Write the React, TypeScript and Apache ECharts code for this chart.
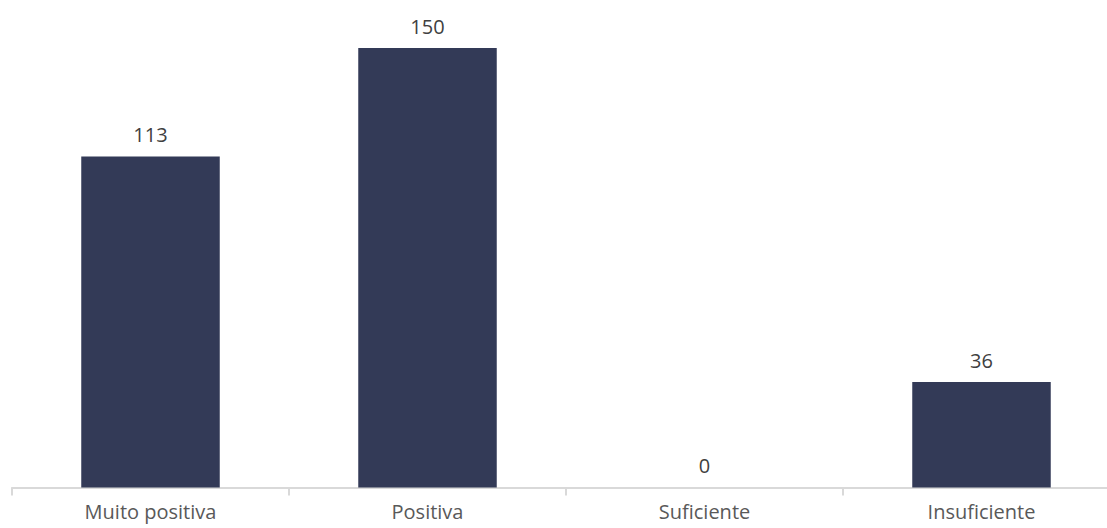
import React, { useEffect, useRef } from "react";
import * as echarts from "echarts";

const categories = ["Muito positiva", "Positiva", "Suficiente", "Insuficiente"];
const values = [113, 150, 0, 36];

export default function App() {
  const ref = useRef<HTMLDivElement>(null);
  useEffect(() => {
    document.body.style.margin = "0";
    document.body.style.overflow = "hidden";
    document.documentElement.style.overflow = "hidden";
    const chart = echarts.init(ref.current!, null, { renderer: "svg" });
    chart.setOption({
      animation: false,
      grid: { left: 12, right: 0, top: 48, bottom: 40.5, containLabel: false },
      xAxis: {
        type: "category",
        data: categories,
        axisLine: { show: true, lineStyle: { color: "#d9d9d9", width: 2 } },
        axisTick: { show: true, length: 8, lineStyle: { color: "#d9d9d9", width: 2 } },
        axisLabel: {
          color: "#595959",
          fontSize: 20,
          fontFamily: "Open Sans",
          margin: 14,
        },
      },
      yAxis: {
        type: "value",
        min: 0,
        max: 150,
        show: false,
        splitLine: { show: false },
      },
      series: [
        {
          type: "bar",
          data: values,
          barWidth: "50%",
          itemStyle: { color: "#333a57" },
          label: {
            show: true,
            position: "top",
            distance: 12,
            color: "#404040",
            fontSize: 20,
            fontFamily: "Open Sans",
          },
        },
      ],
    });
    return () => chart.dispose();
  }, []);
  return (
    <div style={{ width: 1107, height: 528, overflow: "hidden", position: "relative" }}>
      <div ref={ref} style={{ width: 1120, height: 528, position: "absolute", left: 0, top: 0 }} />
    </div>
  );
}
